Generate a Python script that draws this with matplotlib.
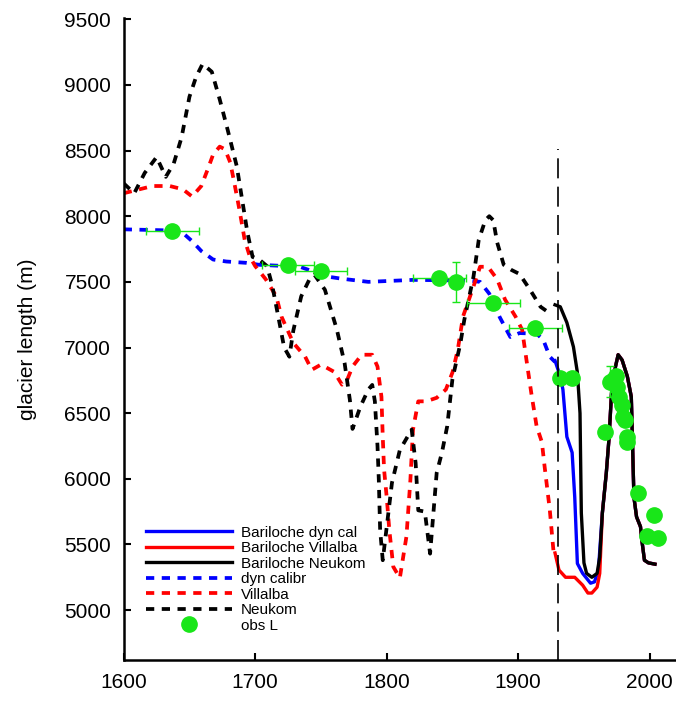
import matplotlib
matplotlib.use("Agg")
import matplotlib.pyplot as plt

plt.rcParams['font.family'] = ['Liberation Sans', 'DejaVu Sans']

# Neukom reconstruction (dashed black)
neukom_yr = [1600, 1608, 1616, 1625, 1632, 1638, 1644, 1650, 1655, 1660, 1667, 1673,
             1679, 1686, 1690, 1694, 1698, 1703, 1709, 1713, 1719, 1722, 1726, 1729,
             1735, 1742, 1745, 1753, 1762, 1768, 1772, 1774, 1780, 1786, 1789, 1791,
             1793, 1794, 1795, 1797, 1804, 1810, 1819, 1822, 1824, 1829, 1833, 1838,
             1842, 1846, 1850, 1856, 1859, 1866, 1870, 1875, 1878, 1881, 1884, 1889,
             1895, 1901, 1909, 1917, 1922, 1926]
neukom_L = [8250, 8175, 8330, 8450, 8300, 8400, 8600, 8910, 9060, 9160, 9100, 8890,
            8660, 8380, 8130, 7880, 7690, 7670, 7620, 7470, 7160, 7000, 6930, 7130,
            7390, 7535, 7555, 7440, 7140, 6880, 6600, 6380, 6550, 6680, 6715, 6590,
            6250, 5990, 5610, 5380, 5970, 6220, 6375, 6120, 5760, 5750, 5430, 6045,
            6200, 6400, 6760, 7030, 7210, 7540, 7820, 7970, 8000, 7970, 7800, 7630,
            7590, 7560, 7440, 7310, 7275, 7275]

# Villalba reconstruction (dashed red)
villalba_yr = [1600, 1612, 1622, 1635, 1645, 1652, 1659, 1664, 1668, 1673, 1677, 1681,
               1684, 1688, 1692, 1696, 1700, 1708, 1716, 1720, 1729, 1738, 1743, 1750,
               1760, 1766, 1770, 1774, 1781, 1789, 1793, 1796, 1797, 1798, 1800, 1802,
               1805, 1810, 1815, 1818, 1820, 1824, 1830, 1838, 1845, 1850, 1854, 1858,
               1866, 1871, 1877, 1884, 1890, 1898, 1903, 1907, 1910, 1914, 1918, 1920,
               1924, 1927]
villalba_L = [8175, 8205, 8230, 8230, 8205, 8150, 8230, 8360, 8470, 8530, 8510, 8410,
              8260, 8050, 7820, 7690, 7620, 7520, 7390, 7235, 7035, 6930, 6830, 6870,
              6815, 6717, 6755, 6855, 6945, 6945, 6855, 6625, 6320, 6070, 5860, 5610,
              5330, 5245, 5560, 5990, 6375, 6590, 6590, 6617, 6680, 6810, 6980, 7235,
              7465, 7615, 7615, 7520, 7365, 7235, 7135, 6855, 6650, 6400, 6280, 6100,
              5765, 5430]

# dynamic calibration (dashed blue)
dyncal_yr = [1600, 1643, 1652, 1659, 1668, 1678, 1693, 1703, 1734, 1755, 1765, 1786,
             1820, 1863, 1871, 1878, 1886, 1894, 1901, 1914, 1919, 1924, 1928]
dyncal_L = [7900, 7890, 7810, 7735, 7670, 7655, 7645, 7630, 7615, 7540, 7525, 7500,
            7515, 7510, 7500, 7410, 7230, 7080, 7110, 7105, 7060, 6930, 6890]

# Bariloche-forced runs (solid)
tail_yr = [1964, 1967, 1969, 1971, 1974, 1976, 1979, 1983, 1986, 1987, 1988, 1990,
           1993, 1994, 1996, 1999, 2004]
tail_L = [5740, 6045, 6300, 6655, 6855, 6945, 6905, 6780, 6625, 6245, 5860, 5710,
          5635, 5535, 5380, 5360, 5350]

bar_dyn_yr = [1928, 1932, 1934, 1937, 1941, 1943, 1945, 1949, 1955, 1958, 1961] + tail_yr
bar_dyn_L = [6900, 6780, 6680, 6320, 6200, 5860, 5355, 5280, 5205, 5215, 5305] + tail_L

bar_vil_yr = [1928, 1931, 1936, 1943, 1949, 1953, 1956, 1960, 1962] + tail_yr
bar_vil_L = [5435, 5305, 5250, 5250, 5190, 5130, 5130, 5175, 5280] + tail_L

bar_neu_yr = [1928, 1932, 1937, 1942, 1945, 1947, 1948, 1950, 1952, 1956, 1960, 1962] + tail_yr
bar_neu_L = [7325, 7310, 7190, 7005, 6810, 6500, 5740, 5360, 5280, 5250, 5280, 5405] + tail_L

# observed lengths
obs_yr = [1637, 1725, 1750, 1840, 1853, 1881, 1913, 1932, 1941, 1966, 1970, 1972,
          1974, 1975, 1977, 1979, 1980, 1981, 1983, 1983, 1991, 1998, 2003, 2006]
obs_L = [7890, 7630, 7580, 7530, 7500, 7340, 7145, 6770, 6770, 6360, 6740, 6755,
         6780, 6700, 6625, 6565, 6470, 6450, 6320, 6280, 5895, 5565, 5725, 5550]
obs_xerr = [20, 20, 20, 20, 0, 20, 20, 0, 0, 0, 0, 0, 0, 0, 0, 0, 0, 0, 0, 0, 0, 0, 0, 0]
obs_yerr = [0, 0, 0, 0, 150, 0, 0, 0, 0, 0, 120, 0, 0, 0, 0, 0, 0, 0, 0, 0, 0, 0, 0, 0]

green = '#19e619'
dash = (0, (2.2, 2.0))

fig = plt.figure(figsize=(6.76, 7.04), dpi=100)
ax = fig.add_axes([0.183, 0.0625, 0.817, 0.912])

ax.plot(bar_dyn_yr, bar_dyn_L, color='#0000ff', lw=2.4, label='Bariloche dyn cal')
ax.plot(bar_vil_yr, bar_vil_L, color='#ff0000', lw=2.4, label='Bariloche Villalba')
ax.plot(bar_neu_yr, bar_neu_L, color='black', lw=2.4, label='Bariloche Neukom')
ax.plot(dyncal_yr, dyncal_L, color='#0000ff', lw=2.7, ls=dash, label='dyn calibr')
ax.plot(villalba_yr, villalba_L, color='#ff0000', lw=2.7, ls=dash, label='Villalba')
ax.plot(neukom_yr, neukom_L, color='black', lw=2.7, ls=dash, label='Neukom')

ax.errorbar(obs_yr, obs_L, xerr=obs_xerr, yerr=obs_yerr, fmt='none', ecolor=green,
            elinewidth=1, capsize=3)
ax.plot(obs_yr, obs_L, 'o', color=green, ms=11, mec=green, label='obs L')

ax.plot([1930, 1930], [4620, 8510], color='black', lw=1.2, ls=(0, (12, 5)))

ax.set_xlim(1600, 2020)
ax.set_ylim(4620, 9510)
ax.set_xticks([1600, 1700, 1800, 1900, 2000])
ax.set_yticks(range(5000, 9501, 500))
ax.spines['top'].set_visible(False)
ax.spines['right'].set_visible(False)
ax.spines['left'].set_linewidth(1.8)
ax.spines['bottom'].set_linewidth(1.8)
ax.tick_params(direction='in', length=5, width=1.5, labelsize=15, pad=9)
ax.set_ylabel('glacier length (m)', fontsize=15, labelpad=20)

ax.legend(loc='upper left', bbox_to_anchor=(0.03, 0.219), frameon=False, fontsize=11,
          handlelength=5.6, handletextpad=0.6, labelspacing=0.1, borderaxespad=0,
          numpoints=1)

fig.savefig('out.png', dpi=100)
